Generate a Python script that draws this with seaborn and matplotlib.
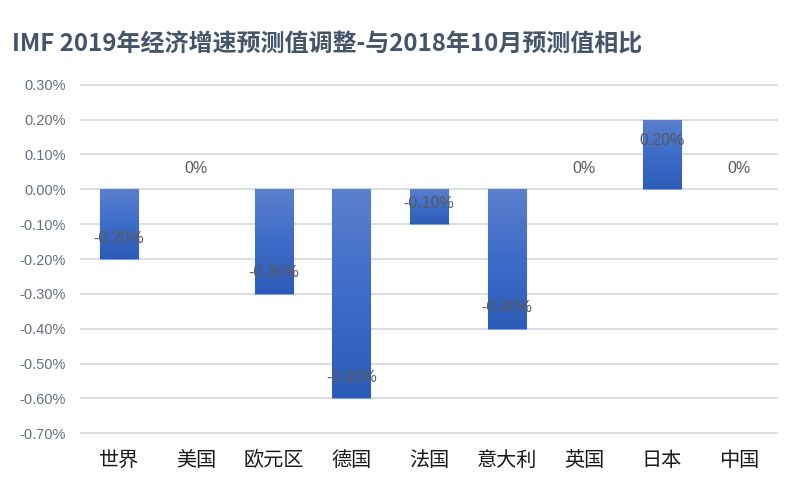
import numpy as np
import pandas as pd
import matplotlib
matplotlib.use("Agg")
import matplotlib.pyplot as plt
import seaborn as sns
from matplotlib.colors import LinearSegmentedColormap

sns.set_style("white")
plt.rcParams['font.family'] = ['Noto Sans CJK SC', 'DejaVu Sans']

# data: change vs Oct 2018 forecast, percentage points
countries = ["世界", "美国", "欧元区", "德国", "法国", "意大利", "英国", "日本", "中国"]
changes = [-0.2, 0.0, -0.3, -0.6, -0.1, -0.4, 0.0, 0.2, 0.0]
yticks = [0.3, 0.2, 0.1, 0.0, -0.1, -0.2, -0.3, -0.4, -0.5, -0.6, -0.7]

df = pd.DataFrame({"country": countries, "change": changes})

fig = plt.figure(figsize=(8, 5.01), dpi=100)
ax = fig.add_axes([0.1, 0.1317, 0.8725, 0.7026])

sns.barplot(data=df, x="country", y="change", color="#3a66c4", width=0.49,
            saturation=1, ax=ax, zorder=3)

# gradient fill, lighter at top
cmap = LinearSegmentedColormap.from_list("g", ["#2c5bb8", "#3d6cc9", "#5b80cd"])
grad = np.linspace(0, 1, 256).reshape(-1, 1)
for p in ax.patches:
    x0, y0 = p.get_x(), p.get_y()
    w, h = p.get_width(), p.get_height()
    if h == 0:
        p.set_visible(False)
        continue
    lo, hi = min(y0, y0 + h), max(y0, y0 + h)
    p.set_edgecolor("#7f9fdc")
    p.set_linewidth(0.8)
    im = ax.imshow(grad, cmap=cmap, aspect="auto", origin="lower",
                   extent=(x0, x0 + w, lo, hi), zorder=4)
    im.set_clip_path(p)

# value labels near bar end
for i, v in enumerate(changes):
    ty = v + 0.06 if v <= 0 else v - 0.06
    txt = "0%" if v == 0 else f"{v:.2f}%"
    ax.text(i, ty, txt, ha="center", va="center", fontsize=11.5,
            color="#595959", family=["Liberation Sans", "DejaVu Sans"], zorder=5)

ax.set_xlim(-0.5, len(countries) - 0.5)
ax.set_ylim(-0.705, 0.305)
ax.set_yticks(yticks)
ax.set_yticklabels([f"{t:.2f}%" for t in yticks],
                   family=["Liberation Sans", "DejaVu Sans"], fontsize=10.5,
                   color="#66707f")
ax.set_xticks(range(len(countries)))
ax.set_xticklabels(countries, fontsize=14.5, color="#1a1a1a")
ax.tick_params(axis="x", pad=11, length=0)
ax.tick_params(axis="y", pad=10, length=0)
ax.grid(axis="y", color="#d9dde3", linewidth=1.4, zorder=0)
ax.set_axisbelow(True)
ax.set_xlabel("")
ax.set_ylabel("")
for s in ax.spines.values():
    s.set_visible(False)

fig.text(0.015, 0.91, "IMF 2019年经济增速预测值调整-与2018年10月预测值相比",
         fontsize=17.3, fontweight="bold", color="#44546a", va="center")

fig.savefig("out.png", dpi=100)
